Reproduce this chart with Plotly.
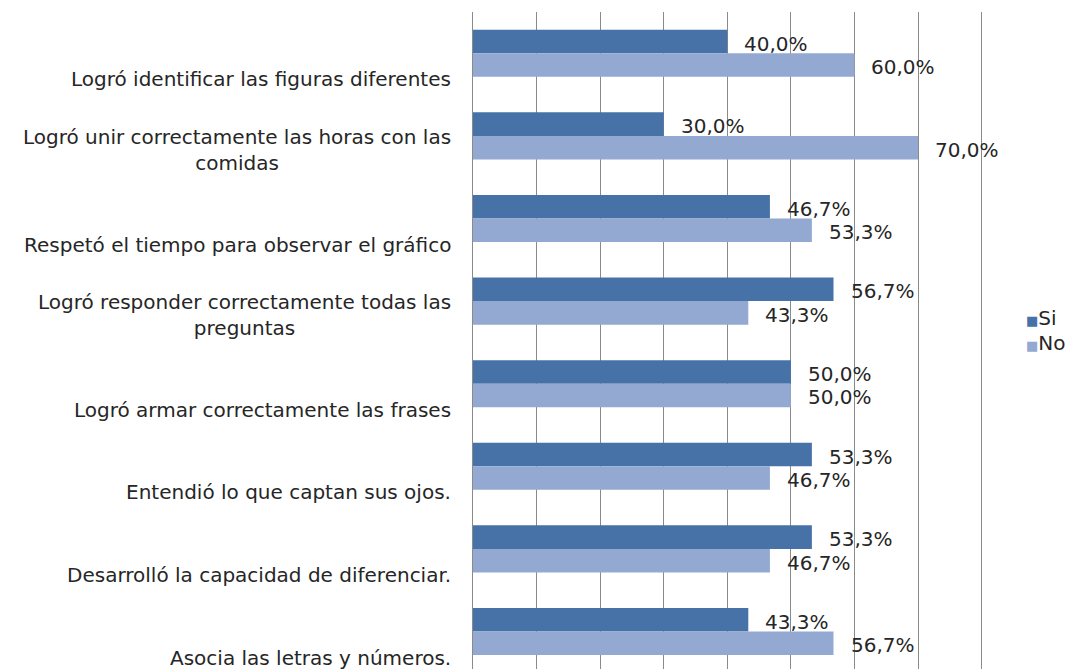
import plotly.graph_objects as go

# Survey items (top to bottom) and the share of each answer, in percent
categories = [
    "Logró identificar las figuras diferentes",
    "Logró unir correctamente las horas con las<br>comidas",
    "Respetó el tiempo para observar el gráfico",
    "Logró responder correctamente todas las<br>preguntas",
    "Logró armar correctamente las frases",
    "Entendió lo que captan sus ojos.",
    "Desarrolló la capacidad de diferenciar.",
    "Asocia las letras y números.",
]
si_values = [40.0, 30.0, 46.7, 56.7, 50.0, 53.3, 53.3, 43.3]
no_values = [60.0, 70.0, 53.3, 43.3, 50.0, 46.7, 46.7, 56.7]
series_names = ["Si", "No"]
x_ticks = [0, 10, 20, 30, 40, 50, 60, 70, 80]

SI_COLOR = "#4672A8"
NO_COLOR = "#93A9D1"
GRID_COLOR = "#8A8A8A"
TEXT_COLOR = "#262626"
FONT = "DejaVu Sans"

positions = list(range(len(categories)))
GROUP = 0.57          # fraction of a category band filled by the two bars
HALF_BAR = GROUP / 4  # offset of each bar centre from the band centre


def pct(v):
    return f"{v:.1f}".replace(".", ",") + "%"


fig = go.Figure()
for name, vals, color in [(series_names[0], si_values, SI_COLOR),
                          (series_names[1], no_values, NO_COLOR)]:
    fig.add_trace(go.Bar(
        name=name, x=vals, y=positions, orientation="h",
        marker=dict(color=color, line=dict(width=0)),
        showlegend=False, hoverinfo="x+name",
    ))

annotations = []

# value labels just past the end of each bar
for i, (s, n) in enumerate(zip(si_values, no_values)):
    for v, off in ((s, -HALF_BAR), (n, HALF_BAR)):
        annotations.append(dict(
            x=v, y=i + off, xref="x", yref="y", text=pct(v),
            showarrow=False, xanchor="left", yanchor="middle",
            xshift=15, yshift=-2,
            font=dict(family=FONT, size=20, color=TEXT_COLOR),
        ))

# category labels, right aligned next to the axis line
for i, cat in enumerate(categories):
    lines = cat.count("<br>") + 1
    annotations.append(dict(
        x=0, y=i, xref="paper", yref="y", text=cat,
        showarrow=False, xanchor="right", yanchor="middle", align="center",
        xshift=-20, yshift=-(26 - 12 * (lines - 1)),
        font=dict(family=FONT, size=20, color=TEXT_COLOR),
    ))

# legend entries
for k, (name, color) in enumerate(zip(series_names, [SI_COLOR, NO_COLOR])):
    annotations.append(dict(
        x=1, y=0.534 - k * 0.038, xref="paper", yref="paper",
        text=f'<span style="color:{color};font-size:13px">■</span>{name}',
        showarrow=False, xanchor="left", yanchor="middle", xshift=36,
        font=dict(family=FONT, size=20, color=TEXT_COLOR),
    ))

fig.update_layout(
    width=1084, height=669,
    margin=dict(l=473, r=96, t=12, b=0),
    paper_bgcolor="white", plot_bgcolor="white",
    barmode="group", bargap=1 - GROUP, bargroupgap=0,
    annotations=annotations,
    xaxis=dict(
        range=[0, 81], tickvals=x_ticks, showticklabels=False,
        showgrid=True, gridcolor=GRID_COLOR, gridwidth=1,
        zeroline=False, showline=False, ticks="",
    ),
    yaxis=dict(
        range=[len(categories) - 0.546, -0.5],
        showticklabels=False, showgrid=False, zeroline=False,
        showline=True, linecolor=GRID_COLOR, linewidth=1, ticks="",
    ),
)

fig.write_html("out.html")
